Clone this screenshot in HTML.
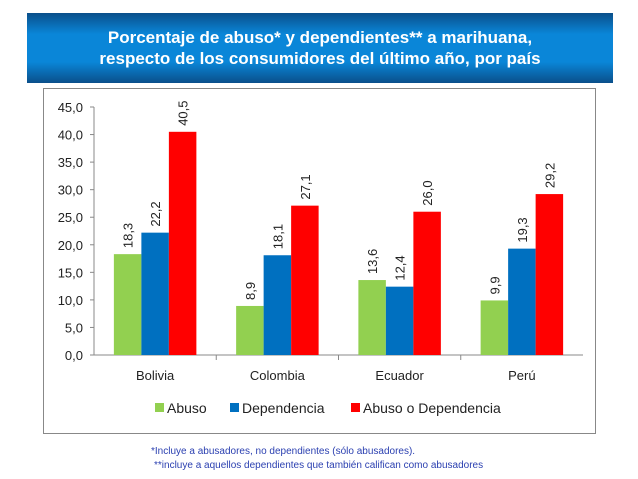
<!DOCTYPE html>
<html><head><meta charset="utf-8"><style>
body{margin:0;width:638px;height:479px;background:#fff;overflow:hidden;font-family:"Liberation Sans",sans-serif;position:relative}
#hdr{position:absolute;left:27px;top:13px;width:586px;height:70px;background:linear-gradient(#0a4f8a 0%,#0a86d8 30%,#0a86d8 70%,#0a4f8a 100%);color:#fff;font-weight:bold;font-size:17px;text-align:center;line-height:21px;box-sizing:border-box;padding-top:14px}
#box{position:absolute;left:43px;top:88px;width:553px;height:346px;border:1px solid #888;box-sizing:border-box}
.fn{position:absolute;font-size:10px;color:#2a3fb0}
</style></head><body>
<div id="hdr">Porcentaje de abuso* y dependientes** a marihuana,<br>respecto de los consumidores del último año, por país</div>
<div id="box"></div>
<svg id="chart" width="638" height="479" style="position:absolute;left:0;top:0"></svg>
<div class="fn" style="left:151px;top:446px">*Incluye a abusadores, no dependientes (sólo abusadores).</div>
<div class="fn" style="left:154px;top:460px">**incluye a aquellos dependientes que también califican como abusadores</div>
<script>
const categories=["Bolivia","Colombia","Ecuador","Perú"];
const abuso=[18.3,8.9,13.6,9.9];
const dependencia=[22.2,18.1,12.4,19.3];
const abusoODep=[40.5,27.1,26.0,29.2];
const ticks=[0,5,10,15,20,25,30,35,40,45];
const seriesNames=["Abuso","Dependencia","Abuso o Dependencia"];
const colors=["#92d050","#0070c0","#ff0000"];
const svg=document.getElementById('chart');const NS='http://www.w3.org/2000/svg';
const x0=94,x1=583,yb=355,yt=107,ymax=45;
const y=v=>yb-(v/ymax)*(yb-yt);
const cw=(x1-x0)/categories.length;
function mk(t,a){const e=document.createElementNS(NS,t);for(const k in a)e.setAttribute(k,a[k]);svg.appendChild(e);return e;}
const ax=mk('line',{x1:x0,y1:yt,x2:x0,y2:yb,stroke:'#888'});

const xa=mk('line',{x1:x0,y1:yb,x2:x1,y2:yb,stroke:'#888'});

ticks.forEach(t=>{mk('line',{x1:x0-4,y1:y(t),x2:x0,y2:y(t),stroke:'#888'});
const l=mk('text',{x:x0-11,y:y(t)+5,'text-anchor':'end','font-size':13,fill:'#222'});l.textContent=t.toFixed(1).replace('.',',');
});
const series=[abuso,dependencia,abusoODep];const bw=27.5;
categories.forEach((c,i)=>{const cx=x0+cw*(i+0.5);
if(i>0)mk('line',{x1:x0+cw*i,y1:yb,x2:x0+cw*i,y2:yb+5,stroke:'#888'});
const cl=mk('text',{x:cx,y:yb+25,'text-anchor':'middle','font-size':13,fill:'#222'});cl.textContent=c;

series.forEach((s,j)=>{const bx=cx-1.5*bw+j*bw;
const r=mk('rect',{x:bx,y:y(s[i]),width:bw,height:yb-y(s[i]),fill:colors[j]});

const tx=bx+bw/2+5,ty=y(s[i])-6;
const v=mk('text',{x:tx,y:ty,transform:`rotate(-90 ${tx} ${ty})`,'font-size':13,fill:'#222'});v.textContent=s[i].toFixed(1).replace('.',',');
});});
let lx=155;seriesNames.forEach((n,j)=>{mk('rect',{x:lx,y:403,width:9,height:9,fill:colors[j]});
const t=mk('text',{x:lx+12,y:413,'font-size':14,fill:'#222'});t.textContent=n;

lx+=[75,121,0][j];});
</script>
</body></html>
